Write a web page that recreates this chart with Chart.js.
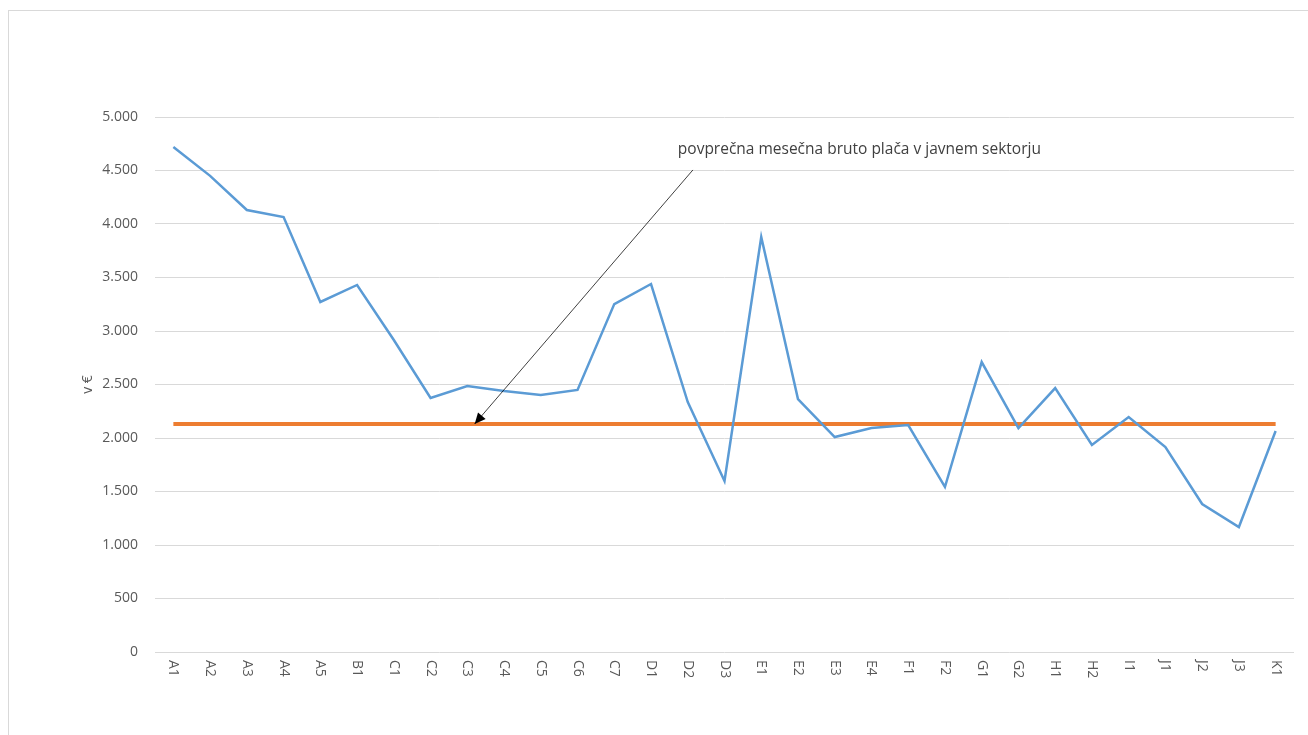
<!DOCTYPE html>
<html lang="sl">
<head>
<meta charset="UTF-8">
<title>Plače</title>
<script src="https://cdn.jsdelivr.net/npm/chart.js"></script>
<style>
    html, body { margin: 0; padding: 0; background: #fff; }
    .frame {
        position: absolute; left: 0; top: 0;
        width: 1308px; height: 735px;
        overflow: hidden;
    }
    .border {
        position: absolute; left: 8px; top: 10px;
        width: 1320px; height: 760px;
        border: 1px solid #d9d9d9;
    }
    canvas { position: absolute; left: 0; top: 0; }
</style>
</head>
<body>
<div class="frame">
    <div class="border"></div>
    <canvas id="myChart" width="1308" height="735"></canvas>
</div>
<script>
    const labels = ['A1','A2','A3','A4','A5','B1','C1','C2','C3','C4','C5','C6','C7','D1','D2','D3',
                    'E1','E2','E3','E4','F1','F2','G1','G2','H1','H2','I1','J1','J2','J3','K1'];
    const salaries = [4720, 4450, 4131, 4065, 3271, 3430, 2916, 2374, 2486, 2439, 2402, 2449, 3252, 3439, 2336, 1598,
                      3879, 2364, 2009, 2093, 2121, 1542, 2710, 2093, 2467, 1935, 2196, 1916, 1383, 1168, 2065];
    const publicAvg = [2131, 2131, 2131, 2131, 2131, 2131, 2131, 2131, 2131, 2131, 2131, 2131, 2131, 2131, 2131, 2131,
                       2131, 2131, 2131, 2131, 2131, 2131, 2131, 2131, 2131, 2131, 2131, 2131, 2131, 2131, 2131];
    const yTicks = [0, 500, 1000, 1500, 2000, 2500, 3000, 3500, 4000, 4500, 5000];
    const yTitle = 'v €';
    const noteText = 'povprečna mesečna bruto plača v javnem sektorju';
    // annotation anchor points in data units (category index, value)
    const note = { textX: 13.73, textY: 4700, fromX: 14.14, fromY: 4505, toX: 8.2, toY: 2131 };

    const fmt = v => v >= 1000 ? Math.floor(v / 1000) + '.' + String(v % 1000).padStart(3, '0') : String(v);
    const font = "'Open Sans', 'Liberation Sans', sans-serif";

    const extras = {
        id: 'extras',
        afterDraw(chart) {
            const c = chart.ctx, x = chart.scales.x, y = chart.scales.y;
            // x labels, turned clockwise
            c.save();
            c.fillStyle = '#595959';
            c.font = '14px ' + font;
            c.textAlign = 'left';
            c.textBaseline = 'middle';
            labels.forEach((lab, i) => {
                c.save();
                c.translate(x.getPixelForValue(i), chart.chartArea.bottom + 8);
                c.rotate(Math.PI / 2);
                c.fillText(lab, 0, 0);
                c.restore();
            });
            c.restore();

            // y title
            c.save();
            c.fillStyle = '#595959';
            c.font = '14px ' + font;
            c.translate(88, (chart.chartArea.top + chart.chartArea.bottom) / 2);
            c.rotate(-Math.PI / 2);
            c.textAlign = 'center';
            c.textBaseline = 'middle';
            c.fillText(yTitle, 0, 0);
            c.restore();

            c.save();
            c.fillStyle = '#404040';
            c.font = '15.5px ' + font;
            c.textBaseline = 'middle';
            c.fillText(noteText, x.getPixelForValue(note.textX), y.getPixelForValue(note.textY));
            // arrow
            const x1 = x.getPixelForValue(note.fromX), y1 = y.getPixelForValue(note.fromY);
            const x2 = x.getPixelForValue(note.toX), y2 = y.getPixelForValue(note.toY);
            c.strokeStyle = '#000';
            c.lineWidth = 0.75;
            c.beginPath(); c.moveTo(x1, y1); c.lineTo(x2, y2); c.stroke();
            const a = Math.atan2(y2 - y1, x2 - x1), len = 11, w = 5;
            c.fillStyle = '#000';
            c.beginPath();
            c.moveTo(x2, y2);
            c.lineTo(x2 - len * Math.cos(a) + w * Math.sin(a), y2 - len * Math.sin(a) - w * Math.cos(a));
            c.lineTo(x2 - len * Math.cos(a) - w * Math.sin(a), y2 - len * Math.sin(a) + w * Math.cos(a));
            c.closePath(); c.fill();
            c.restore();
        }
    };

    const ctx = document.querySelector('#myChart');
    const myChart = new Chart(ctx, {
        type: 'line',
        data: {
            labels: labels,
            datasets: [{
                label: 'plača',
                data: salaries,
                borderColor: '#5B9BD5',
                borderWidth: 2.5,
                pointRadius: 0,
                tension: 0
            }, {
                label: 'povprečje',
                data: publicAvg,
                borderColor: '#ED7D31',
                borderWidth: 4,
                pointRadius: 0
            }]
        },
        options: {
            responsive: false,
            animation: false,
            events: [],
            layout: { padding: { top: 117, right: 14, left: 0, bottom: 0 } },
            plugins: { legend: { display: false }, tooltip: { enabled: false } },
            scales: {
                x: {
                    offset: true,
                    grid: { display: false, drawTicks: false },
                    border: { display: false },
                    ticks: { display: false },
                    afterFit(s) { s.height = 83; }
                },
                y: {
                    min: 0, max: 5000,
                    afterBuildTicks(s) { s.ticks = yTicks.map(v => ({ value: v })); },
                    grid: { color: '#d9d9d9', lineWidth: 1, drawTicks: false },
                    border: { display: false },
                    ticks: {
                        padding: 17,
                        color: '#595959',
                        font: { family: font, size: 14 },
                        callback: v => fmt(v)
                    },
                    afterFit(s) { s.width = 155; }
                }
            }
        },
        plugins: [extras]
    });
</script>
</body>
</html>
